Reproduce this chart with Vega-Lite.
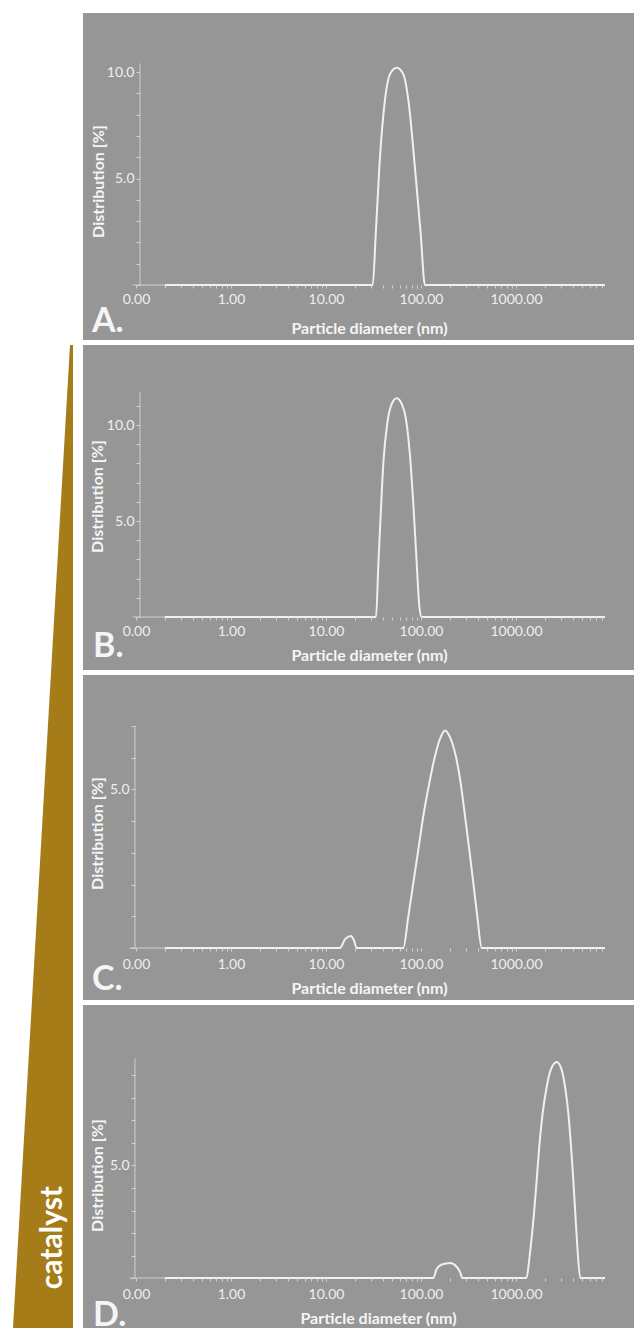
{
  "$schema": "https://vega.github.io/schema/vega-lite/v6.json",
  "background": "#ffffff",
  "padding": {"left": 0, "top": 13, "right": 0, "bottom": 0},
  "spacing": 0,
  "config": {
    "font": "Lato",
    "view": {"stroke": null},
    "axis": {
      "grid": false,
      "domain": false,
      "zindex": 1,
      "labelFont": "Lato",
      "labelFontSize": 14,
      "labelColor": "#eeeeee",
      "titleFont": "Lato",
      "titleFontSize": 16,
      "titleFontWeight": "bold",
      "titleColor": "#f5f5f5",
      "tickColor": "#d2d2d2",
      "tickWidth": 1,
      "labelOverlap": false,
      "labelFlush": false,
      "labelBound": false
    }
  },
  "datasets": {
    "psd": [
      {"panel": "A", "d": 0.2, "pct": 0},
      {"panel": "A", "d": 31.0, "pct": 0},
      {"panel": "A", "d": 33.4, "pct": 2.4},
      {"panel": "A", "d": 36.4, "pct": 5.5},
      {"panel": "A", "d": 41.8, "pct": 8.7},
      {"panel": "A", "d": 47.2, "pct": 9.9},
      {"panel": "A", "d": 55.5, "pct": 10.2},
      {"panel": "A", "d": 65.1, "pct": 9.9},
      {"panel": "A", "d": 73.5, "pct": 8.7},
      {"panel": "A", "d": 86.4, "pct": 5.5},
      {"panel": "A", "d": 99.3, "pct": 2.4},
      {"panel": "A", "d": 110, "pct": 0},
      {"panel": "A", "d": 8650, "pct": 0},
      {"panel": "B", "d": 0.2, "pct": 0},
      {"panel": "B", "d": 33.6, "pct": 0},
      {"panel": "B", "d": 35.6, "pct": 2.8},
      {"panel": "B", "d": 37.7, "pct": 5.4},
      {"panel": "B", "d": 40.1, "pct": 8.0},
      {"panel": "B", "d": 44.2, "pct": 10.1},
      {"panel": "B", "d": 49.2, "pct": 11.1},
      {"panel": "B", "d": 55.5, "pct": 11.4},
      {"panel": "B", "d": 62.6, "pct": 11.1},
      {"panel": "B", "d": 69.5, "pct": 10.3},
      {"panel": "B", "d": 76.6, "pct": 8.4},
      {"panel": "B", "d": 83.0, "pct": 5.9},
      {"panel": "B", "d": 90.1, "pct": 2.8},
      {"panel": "B", "d": 96.3, "pct": 0.5},
      {"panel": "B", "d": 101.6, "pct": 0},
      {"panel": "B", "d": 8650, "pct": 0},
      {"panel": "C", "d": 0.2, "pct": 0},
      {"panel": "C", "d": 14.0, "pct": 0},
      {"panel": "C", "d": 15.9, "pct": 0.28},
      {"panel": "C", "d": 18.2, "pct": 0.38},
      {"panel": "C", "d": 19.7, "pct": 0.24},
      {"panel": "C", "d": 21.0, "pct": 0},
      {"panel": "C", "d": 65.1, "pct": 0},
      {"panel": "C", "d": 73.5, "pct": 0.99},
      {"panel": "C", "d": 83.0, "pct": 2.05},
      {"panel": "C", "d": 93.7, "pct": 3.1},
      {"panel": "C", "d": 105.7, "pct": 4.16},
      {"panel": "C", "d": 122.3, "pct": 5.2},
      {"panel": "C", "d": 140.3, "pct": 6.05},
      {"panel": "C", "d": 161.1, "pct": 6.65},
      {"panel": "C", "d": 179, "pct": 6.86},
      {"panel": "C", "d": 201.8, "pct": 6.65},
      {"panel": "C", "d": 233.4, "pct": 6.03},
      {"panel": "C", "d": 261.6, "pct": 5.2},
      {"panel": "C", "d": 290.6, "pct": 4.16},
      {"panel": "C", "d": 322.3, "pct": 3.1},
      {"panel": "C", "d": 355.4, "pct": 2.05},
      {"panel": "C", "d": 391.6, "pct": 0.99},
      {"panel": "C", "d": 435.5, "pct": 0},
      {"panel": "C", "d": 8650, "pct": 0},
      {"panel": "D", "d": 0.2, "pct": 0},
      {"panel": "D", "d": 134.8, "pct": 0},
      {"panel": "D", "d": 146, "pct": 0.4},
      {"panel": "D", "d": 165, "pct": 0.6},
      {"panel": "D", "d": 202, "pct": 0.67},
      {"panel": "D", "d": 237, "pct": 0.5},
      {"panel": "D", "d": 258, "pct": 0.26},
      {"panel": "D", "d": 272, "pct": 0},
      {"panel": "D", "d": 1274, "pct": 0},
      {"panel": "D", "d": 1428, "pct": 1.4},
      {"panel": "D", "d": 1547, "pct": 2.88},
      {"panel": "D", "d": 1651, "pct": 4.36},
      {"panel": "D", "d": 1759, "pct": 5.85},
      {"panel": "D", "d": 1909, "pct": 7.33},
      {"panel": "D", "d": 2105, "pct": 8.5},
      {"panel": "D", "d": 2319, "pct": 9.25},
      {"panel": "D", "d": 2681, "pct": 9.6},
      {"panel": "D", "d": 3027, "pct": 9.25},
      {"panel": "D", "d": 3281, "pct": 8.5},
      {"panel": "D", "d": 3554, "pct": 7.33},
      {"panel": "D", "d": 3794, "pct": 5.85},
      {"panel": "D", "d": 4011, "pct": 4.36},
      {"panel": "D", "d": 4209, "pct": 2.88},
      {"panel": "D", "d": 4418, "pct": 1.4},
      {"panel": "D", "d": 4750, "pct": 0},
      {"panel": "D", "d": 8650, "pct": 0}
    ]
  },
  "hconcat": [
    {
      "width": 83,
      "height": 1315,
      "view": {"stroke": null, "fill": null},
      "layer": [
        {
          "data": {"values": [{"step": 0, "catalyst": 0.05}, {"step": 1, "catalyst": 1}]},
          "mark": {"type": "area", "orient": "horizontal", "color": "#a67c18"},
          "encoding": {
            "y": {"field": "step", "type": "quantitative", "scale": {"domain": [-0.3377, 1], "reverse": true, "nice": false, "zero": false}, "axis": null},
            "x": {"field": "catalyst", "type": "quantitative", "scale": {"domain": [-0.1667, 1.2167], "reverse": true, "nice": false, "zero": false}, "axis": null},
            "x2": {"datum": 0}
          }
        },
        {
          "data": {"values": [{}]},
          "mark": {"type": "text", "text": "catalyst", "angle": 270, "fontSize": 30, "fontWeight": "bold", "color": "#ffffff", "align": "center", "baseline": "middle", "font": "Lato"},
          "encoding": {
            "x": {"datum": 0.333, "type": "quantitative", "axis": null},
            "y": {"datum": 0.908, "type": "quantitative", "axis": null}
          }
        }
      ]
    },
    {
      "spacing": 5,
      "vconcat": [
        {
          "width": 551,
          "height": 327,
          "view": {"fill": "#969696", "stroke": null},
          "layer": [
            {
              "data": {"name": "psd"},
              "transform": [{"filter": "datum.panel === 'A'"}],
              "mark": {"type": "line", "interpolate": "monotone", "color": "#f0f0f0", "strokeWidth": 2},
              "encoding": {
                "x": {
                  "field": "d", "type": "quantitative",
                  "scale": {"type": "log", "domain": [0.02767, 17462], "nice": false},
                  "axis": {"title": "Particle diameter (nm)", "values": [0.1, 0.2, 0.3, 0.4, 0.5, 0.6, 0.7, 0.8, 0.9, 1, 2, 3, 4, 5, 6, 7, 8, 9, 10, 20, 30, 40, 50, 60, 70, 80, 90, 100, 200, 300, 400, 500, 600, 700, 800, 900, 1000, 2000, 3000, 4000, 5000, 6000, 7000, 8000], "labelExpr": "datum.value < 0.15 ? '0.00' : (indexof([1, 10, 100, 1000], datum.value) >= 0 ? format(datum.value, '.2f') : '')", "labelOverlap": false, "zindex": 1, "offset": -55, "tickSize": 3, "labelPadding": 4, "titleX": 286, "titleY": 43, "titleAlign": "center", "titleBaseline": "middle"}
                },
                "y": {
                  "field": "pct", "type": "quantitative",
                  "scale": {"domain": [-2.58, 12.77], "nice": false, "zero": false},
                  "axis": {"title": "Distribution [%]", "values": [0, 1, 2, 3, 4, 5, 6, 7, 8, 9, 10], "labelExpr": "datum.value == 5 || datum.value == 10 ? format(datum.value, '.1f') : ''", "labelOverlap": false, "zindex": 1, "offset": -57, "tickSize": 4, "labelPadding": 2, "titleX": -42, "titleY": 168, "titleAngle": 270, "titleAlign": "center", "titleBaseline": "middle"}
                }
              }
            },
            {
              "data": {"values": [{}]},
              "mark": {"type": "rule", "color": "#cfcfcf", "strokeWidth": 1},
              "encoding": {
                "x": {"datum": 0.1101, "type": "quantitative",
                  "axis": {"title": "Particle diameter (nm)", "values": [0.1, 0.2, 0.3, 0.4, 0.5, 0.6, 0.7, 0.8, 0.9, 1, 2, 3, 4, 5, 6, 7, 8, 9, 10, 20, 30, 40, 50, 60, 70, 80, 90, 100, 200, 300, 400, 500, 600, 700, 800, 900, 1000, 2000, 3000, 4000, 5000, 6000, 7000, 8000], "labelExpr": "datum.value < 0.15 ? '0.00' : (indexof([1, 10, 100, 1000], datum.value) >= 0 ? format(datum.value, '.2f') : '')", "labelOverlap": false, "zindex": 1, "offset": -55, "tickSize": 3, "labelPadding": 4, "titleX": 286, "titleY": 43, "titleAlign": "center", "titleBaseline": "middle"}},
                "y": {"datum": 0, "type": "quantitative",
                  "axis": {"title": "Distribution [%]", "values": [0, 1, 2, 3, 4, 5, 6, 7, 8, 9, 10], "labelExpr": "datum.value == 5 || datum.value == 10 ? format(datum.value, '.1f') : ''", "labelOverlap": false, "zindex": 1, "offset": -57, "tickSize": 4, "labelPadding": 2, "titleX": -42, "titleY": 168, "titleAngle": 270, "titleAlign": "center", "titleBaseline": "middle"}},
                "y2": {"datum": 10.4}
              }
            },
            {
              "data": {"values": [{}]},
              "mark": {"type": "rule", "color": "#cfcfcf", "strokeWidth": 1},
              "encoding": {
                "x": {"datum": 0.092, "type": "quantitative",
                  "axis": {"title": "Particle diameter (nm)", "values": [0.1, 0.2, 0.3, 0.4, 0.5, 0.6, 0.7, 0.8, 0.9, 1, 2, 3, 4, 5, 6, 7, 8, 9, 10, 20, 30, 40, 50, 60, 70, 80, 90, 100, 200, 300, 400, 500, 600, 700, 800, 900, 1000, 2000, 3000, 4000, 5000, 6000, 7000, 8000], "labelExpr": "datum.value < 0.15 ? '0.00' : (indexof([1, 10, 100, 1000], datum.value) >= 0 ? format(datum.value, '.2f') : '')", "labelOverlap": false, "zindex": 1, "offset": -55, "tickSize": 3, "labelPadding": 4, "titleX": 286, "titleY": 43, "titleAlign": "center", "titleBaseline": "middle"}},
                "x2": {"datum": 0.2},
                "y": {"datum": 0, "type": "quantitative",
                  "axis": {"title": "Distribution [%]", "values": [0, 1, 2, 3, 4, 5, 6, 7, 8, 9, 10], "labelExpr": "datum.value == 5 || datum.value == 10 ? format(datum.value, '.1f') : ''", "labelOverlap": false, "zindex": 1, "offset": -57, "tickSize": 4, "labelPadding": 2, "titleX": -42, "titleY": 168, "titleAngle": 270, "titleAlign": "center", "titleBaseline": "middle"}}
              }
            },
            {
              "data": {"values": [{}]},
              "mark": {"type": "text", "text": "A.", "fontSize": 34, "fontWeight": "bold", "color": "#f5f5f5", "align": "left", "baseline": "alphabetic", "font": "Lato"},
              "encoding": {
                "x": {"datum": 0.0344, "type": "quantitative",
                  "axis": {"title": "Particle diameter (nm)", "values": [0.1, 0.2, 0.3, 0.4, 0.5, 0.6, 0.7, 0.8, 0.9, 1, 2, 3, 4, 5, 6, 7, 8, 9, 10, 20, 30, 40, 50, 60, 70, 80, 90, 100, 200, 300, 400, 500, 600, 700, 800, 900, 1000, 2000, 3000, 4000, 5000, 6000, 7000, 8000], "labelExpr": "datum.value < 0.15 ? '0.00' : (indexof([1, 10, 100, 1000], datum.value) >= 0 ? format(datum.value, '.2f') : '')", "labelOverlap": false, "zindex": 1, "offset": -55, "tickSize": 3, "labelPadding": 4, "titleX": 286, "titleY": 43, "titleAlign": "center", "titleBaseline": "middle"}},
                "y": {"datum": -2.21, "type": "quantitative",
                  "axis": {"title": "Distribution [%]", "values": [0, 1, 2, 3, 4, 5, 6, 7, 8, 9, 10], "labelExpr": "datum.value == 5 || datum.value == 10 ? format(datum.value, '.1f') : ''", "labelOverlap": false, "zindex": 1, "offset": -57, "tickSize": 4, "labelPadding": 2, "titleX": -42, "titleY": 168, "titleAngle": 270, "titleAlign": "center", "titleBaseline": "middle"}}
              }
            }
          ]
        },
        {
          "width": 551,
          "height": 325,
          "view": {"fill": "#969696", "stroke": null},
          "layer": [
            {
              "data": {"name": "psd"},
              "transform": [{"filter": "datum.panel === 'B'"}],
              "mark": {"type": "line", "interpolate": "monotone", "color": "#f0f0f0", "strokeWidth": 2},
              "encoding": {
                "x": {
                  "field": "d", "type": "quantitative",
                  "scale": {"type": "log", "domain": [0.02767, 17462], "nice": false},
                  "axis": {"title": "Particle diameter (nm)", "values": [0.1, 0.2, 0.3, 0.4, 0.5, 0.6, 0.7, 0.8, 0.9, 1, 2, 3, 4, 5, 6, 7, 8, 9, 10, 20, 30, 40, 50, 60, 70, 80, 90, 100, 200, 300, 400, 500, 600, 700, 800, 900, 1000, 2000, 3000, 4000, 5000, 6000, 7000, 8000], "labelExpr": "datum.value < 0.15 ? '0.00' : (indexof([1, 10, 100, 1000], datum.value) >= 0 ? format(datum.value, '.2f') : '')", "labelOverlap": false, "zindex": 1, "offset": -53, "tickSize": 3, "labelPadding": 4, "titleX": 286, "titleY": 38, "titleAlign": "center", "titleBaseline": "middle"}
                },
                "y": {
                  "field": "pct", "type": "quantitative",
                  "scale": {"domain": [-2.76, 14.17], "nice": false, "zero": false},
                  "axis": {"title": "Distribution [%]", "values": [0, 1, 2, 3, 4, 5, 6, 7, 8, 9, 10, 11], "labelExpr": "datum.value == 5 || datum.value == 10 ? format(datum.value, '.1f') : ''", "labelOverlap": false, "zindex": 1, "offset": -57, "tickSize": 4, "labelPadding": 2, "titleX": -43, "titleY": 151, "titleAngle": 270, "titleAlign": "center", "titleBaseline": "middle"}
                }
              }
            },
            {
              "data": {"values": [{}]},
              "mark": {"type": "rule", "color": "#cfcfcf", "strokeWidth": 1},
              "encoding": {
                "x": {"datum": 0.1101, "type": "quantitative",
                  "axis": {"title": "Particle diameter (nm)", "values": [0.1, 0.2, 0.3, 0.4, 0.5, 0.6, 0.7, 0.8, 0.9, 1, 2, 3, 4, 5, 6, 7, 8, 9, 10, 20, 30, 40, 50, 60, 70, 80, 90, 100, 200, 300, 400, 500, 600, 700, 800, 900, 1000, 2000, 3000, 4000, 5000, 6000, 7000, 8000], "labelExpr": "datum.value < 0.15 ? '0.00' : (indexof([1, 10, 100, 1000], datum.value) >= 0 ? format(datum.value, '.2f') : '')", "labelOverlap": false, "zindex": 1, "offset": -53, "tickSize": 3, "labelPadding": 4, "titleX": 286, "titleY": 38, "titleAlign": "center", "titleBaseline": "middle"}},
                "y": {"datum": 0, "type": "quantitative",
                  "axis": {"title": "Distribution [%]", "values": [0, 1, 2, 3, 4, 5, 6, 7, 8, 9, 10, 11], "labelExpr": "datum.value == 5 || datum.value == 10 ? format(datum.value, '.1f') : ''", "labelOverlap": false, "zindex": 1, "offset": -57, "tickSize": 4, "labelPadding": 2, "titleX": -43, "titleY": 151, "titleAngle": 270, "titleAlign": "center", "titleBaseline": "middle"}},
                "y2": {"datum": 11.7}
              }
            },
            {
              "data": {"values": [{}]},
              "mark": {"type": "rule", "color": "#cfcfcf", "strokeWidth": 1},
              "encoding": {
                "x": {"datum": 0.092, "type": "quantitative",
                  "axis": {"title": "Particle diameter (nm)", "values": [0.1, 0.2, 0.3, 0.4, 0.5, 0.6, 0.7, 0.8, 0.9, 1, 2, 3, 4, 5, 6, 7, 8, 9, 10, 20, 30, 40, 50, 60, 70, 80, 90, 100, 200, 300, 400, 500, 600, 700, 800, 900, 1000, 2000, 3000, 4000, 5000, 6000, 7000, 8000], "labelExpr": "datum.value < 0.15 ? '0.00' : (indexof([1, 10, 100, 1000], datum.value) >= 0 ? format(datum.value, '.2f') : '')", "labelOverlap": false, "zindex": 1, "offset": -53, "tickSize": 3, "labelPadding": 4, "titleX": 286, "titleY": 38, "titleAlign": "center", "titleBaseline": "middle"}},
                "x2": {"datum": 0.2},
                "y": {"datum": 0, "type": "quantitative",
                  "axis": {"title": "Distribution [%]", "values": [0, 1, 2, 3, 4, 5, 6, 7, 8, 9, 10, 11], "labelExpr": "datum.value == 5 || datum.value == 10 ? format(datum.value, '.1f') : ''", "labelOverlap": false, "zindex": 1, "offset": -57, "tickSize": 4, "labelPadding": 2, "titleX": -43, "titleY": 151, "titleAngle": 270, "titleAlign": "center", "titleBaseline": "middle"}}
              }
            },
            {
              "data": {"values": [{}]},
              "mark": {"type": "text", "text": "B.", "fontSize": 34, "fontWeight": "bold", "color": "#f5f5f5", "align": "left", "baseline": "alphabetic", "font": "Lato"},
              "encoding": {
                "x": {"datum": 0.0353, "type": "quantitative",
                  "axis": {"title": "Particle diameter (nm)", "values": [0.1, 0.2, 0.3, 0.4, 0.5, 0.6, 0.7, 0.8, 0.9, 1, 2, 3, 4, 5, 6, 7, 8, 9, 10, 20, 30, 40, 50, 60, 70, 80, 90, 100, 200, 300, 400, 500, 600, 700, 800, 900, 1000, 2000, 3000, 4000, 5000, 6000, 7000, 8000], "labelExpr": "datum.value < 0.15 ? '0.00' : (indexof([1, 10, 100, 1000], datum.value) >= 0 ? format(datum.value, '.2f') : '')", "labelOverlap": false, "zindex": 1, "offset": -53, "tickSize": 3, "labelPadding": 4, "titleX": 286, "titleY": 38, "titleAlign": "center", "titleBaseline": "middle"}},
                "y": {"datum": -2.08, "type": "quantitative",
                  "axis": {"title": "Distribution [%]", "values": [0, 1, 2, 3, 4, 5, 6, 7, 8, 9, 10, 11], "labelExpr": "datum.value == 5 || datum.value == 10 ? format(datum.value, '.1f') : ''", "labelOverlap": false, "zindex": 1, "offset": -57, "tickSize": 4, "labelPadding": 2, "titleX": -43, "titleY": 151, "titleAngle": 270, "titleAlign": "center", "titleBaseline": "middle"}}
              }
            }
          ]
        },
        {
          "width": 551,
          "height": 325,
          "view": {"fill": "#969696", "stroke": null},
          "layer": [
            {
              "data": {"name": "psd"},
              "transform": [{"filter": "datum.panel === 'C'"}],
              "mark": {"type": "line", "interpolate": "monotone", "color": "#f0f0f0", "strokeWidth": 2},
              "encoding": {
                "x": {
                  "field": "d", "type": "quantitative",
                  "scale": {"type": "log", "domain": [0.02767, 17462], "nice": false},
                  "axis": {"title": "Particle diameter (nm)", "values": [0.1, 0.2, 0.3, 0.4, 0.5, 0.6, 0.7, 0.8, 0.9, 1, 2, 3, 4, 5, 6, 7, 8, 9, 10, 20, 30, 40, 50, 60, 70, 80, 90, 100, 200, 300, 400, 500, 600, 700, 800, 900, 1000, 2000, 3000, 4000, 5000, 6000, 7000, 8000], "labelExpr": "datum.value < 0.15 ? '0.00' : (indexof([1, 10, 100, 1000], datum.value) >= 0 ? format(datum.value, '.2f') : '')", "labelOverlap": false, "zindex": 1, "offset": -52, "tickSize": 3, "labelPadding": 6, "titleX": 286, "titleY": 40, "titleAlign": "center", "titleBaseline": "middle"}
                },
                "y": {
                  "field": "pct", "type": "quantitative",
                  "scale": {"domain": [-1.64, 8.61], "nice": false, "zero": false},
                  "axis": {"title": "Distribution [%]", "values": [0, 1, 2, 3, 4, 5, 6, 7], "labelExpr": "datum.value == 5 || datum.value == 10 ? format(datum.value, '.1f') : ''", "labelOverlap": false, "zindex": 1, "offset": -52, "tickSize": 4, "labelPadding": 2, "titleX": -38, "titleY": 158, "titleAngle": 270, "titleAlign": "center", "titleBaseline": "middle"}
                }
              }
            },
            {
              "data": {"values": [{}]},
              "mark": {"type": "rule", "color": "#cfcfcf", "strokeWidth": 1},
              "encoding": {
                "x": {"datum": 0.0975, "type": "quantitative",
                  "axis": {"title": "Particle diameter (nm)", "values": [0.1, 0.2, 0.3, 0.4, 0.5, 0.6, 0.7, 0.8, 0.9, 1, 2, 3, 4, 5, 6, 7, 8, 9, 10, 20, 30, 40, 50, 60, 70, 80, 90, 100, 200, 300, 400, 500, 600, 700, 800, 900, 1000, 2000, 3000, 4000, 5000, 6000, 7000, 8000], "labelExpr": "datum.value < 0.15 ? '0.00' : (indexof([1, 10, 100, 1000], datum.value) >= 0 ? format(datum.value, '.2f') : '')", "labelOverlap": false, "zindex": 1, "offset": -52, "tickSize": 3, "labelPadding": 6, "titleX": 286, "titleY": 40, "titleAlign": "center", "titleBaseline": "middle"}},
                "y": {"datum": 0, "type": "quantitative",
                  "axis": {"title": "Distribution [%]", "values": [0, 1, 2, 3, 4, 5, 6, 7], "labelExpr": "datum.value == 5 || datum.value == 10 ? format(datum.value, '.1f') : ''", "labelOverlap": false, "zindex": 1, "offset": -52, "tickSize": 4, "labelPadding": 2, "titleX": -38, "titleY": 158, "titleAngle": 270, "titleAlign": "center", "titleBaseline": "middle"}},
                "y2": {"datum": 7.0}
              }
            },
            {
              "data": {"values": [{}]},
              "mark": {"type": "rule", "color": "#cfcfcf", "strokeWidth": 1},
              "encoding": {
                "x": {"datum": 0.085, "type": "quantitative",
                  "axis": {"title": "Particle diameter (nm)", "values": [0.1, 0.2, 0.3, 0.4, 0.5, 0.6, 0.7, 0.8, 0.9, 1, 2, 3, 4, 5, 6, 7, 8, 9, 10, 20, 30, 40, 50, 60, 70, 80, 90, 100, 200, 300, 400, 500, 600, 700, 800, 900, 1000, 2000, 3000, 4000, 5000, 6000, 7000, 8000], "labelExpr": "datum.value < 0.15 ? '0.00' : (indexof([1, 10, 100, 1000], datum.value) >= 0 ? format(datum.value, '.2f') : '')", "labelOverlap": false, "zindex": 1, "offset": -52, "tickSize": 3, "labelPadding": 6, "titleX": 286, "titleY": 40, "titleAlign": "center", "titleBaseline": "middle"}},
                "x2": {"datum": 0.2},
                "y": {"datum": 0, "type": "quantitative",
                  "axis": {"title": "Distribution [%]", "values": [0, 1, 2, 3, 4, 5, 6, 7], "labelExpr": "datum.value == 5 || datum.value == 10 ? format(datum.value, '.1f') : ''", "labelOverlap": false, "zindex": 1, "offset": -52, "tickSize": 4, "labelPadding": 2, "titleX": -38, "titleY": 158, "titleAngle": 270, "titleAlign": "center", "titleBaseline": "middle"}}
              }
            },
            {
              "data": {"values": [{}]},
              "mark": {"type": "text", "text": "C.", "fontSize": 34, "fontWeight": "bold", "color": "#f5f5f5", "align": "left", "baseline": "alphabetic", "font": "Lato"},
              "encoding": {
                "x": {"datum": 0.0344, "type": "quantitative",
                  "axis": {"title": "Particle diameter (nm)", "values": [0.1, 0.2, 0.3, 0.4, 0.5, 0.6, 0.7, 0.8, 0.9, 1, 2, 3, 4, 5, 6, 7, 8, 9, 10, 20, 30, 40, 50, 60, 70, 80, 90, 100, 200, 300, 400, 500, 600, 700, 800, 900, 1000, 2000, 3000, 4000, 5000, 6000, 7000, 8000], "labelExpr": "datum.value < 0.15 ? '0.00' : (indexof([1, 10, 100, 1000], datum.value) >= 0 ? format(datum.value, '.2f') : '')", "labelOverlap": false, "zindex": 1, "offset": -52, "tickSize": 3, "labelPadding": 6, "titleX": 286, "titleY": 40, "titleAlign": "center", "titleBaseline": "middle"}},
                "y": {"datum": -1.325, "type": "quantitative",
                  "axis": {"title": "Distribution [%]", "values": [0, 1, 2, 3, 4, 5, 6, 7], "labelExpr": "datum.value == 5 || datum.value == 10 ? format(datum.value, '.1f') : ''", "labelOverlap": false, "zindex": 1, "offset": -52, "tickSize": 4, "labelPadding": 2, "titleX": -38, "titleY": 158, "titleAngle": 270, "titleAlign": "center", "titleBaseline": "middle"}}
              }
            }
          ]
        },
        {
          "width": 551,
          "height": 323,
          "view": {"fill": "#969696", "stroke": null},
          "layer": [
            {
              "data": {"name": "psd"},
              "transform": [{"filter": "datum.panel === 'D'"}],
              "mark": {"type": "line", "interpolate": "monotone", "color": "#f0f0f0", "strokeWidth": 2},
              "encoding": {
                "x": {
                  "field": "d", "type": "quantitative",
                  "scale": {"type": "log", "domain": [0.02767, 17462], "nice": false},
                  "axis": {"title": "Particle diameter (nm)", "values": [0.1, 0.2, 0.3, 0.4, 0.5, 0.6, 0.7, 0.8, 0.9, 1, 2, 3, 4, 5, 6, 7, 8, 9, 10, 20, 30, 40, 50, 60, 70, 80, 90, 100, 200, 300, 400, 500, 600, 700, 800, 900, 1000, 2000, 3000, 4000, 5000, 6000, 7000, 8000], "labelExpr": "datum.value < 0.15 ? '0.00' : (indexof([1, 10, 100, 1000], datum.value) >= 0 ? format(datum.value, '.2f') : '')", "labelOverlap": false, "zindex": 1, "offset": -50, "tickSize": 3, "labelPadding": 6, "titleX": 295, "titleY": 40, "titleAlign": "center", "titleBaseline": "middle"}
                },
                "y": {
                  "field": "pct", "type": "quantitative",
                  "scale": {"domain": [-2.22, 12.13], "nice": false, "zero": false},
                  "axis": {"title": "Distribution [%]", "values": [0, 1, 2, 3, 4, 5, 6, 7, 8, 9], "labelExpr": "datum.value == 5 || datum.value == 10 ? format(datum.value, '.1f') : ''", "labelOverlap": false, "zindex": 1, "offset": -52, "tickSize": 4, "labelPadding": 2, "titleX": -38, "titleY": 170, "titleAngle": 270, "titleAlign": "center", "titleBaseline": "middle"}
                }
              }
            },
            {
              "data": {"values": [{}]},
              "mark": {"type": "rule", "color": "#cfcfcf", "strokeWidth": 1},
              "encoding": {
                "x": {"datum": 0.0975, "type": "quantitative",
                  "axis": {"title": "Particle diameter (nm)", "values": [0.1, 0.2, 0.3, 0.4, 0.5, 0.6, 0.7, 0.8, 0.9, 1, 2, 3, 4, 5, 6, 7, 8, 9, 10, 20, 30, 40, 50, 60, 70, 80, 90, 100, 200, 300, 400, 500, 600, 700, 800, 900, 1000, 2000, 3000, 4000, 5000, 6000, 7000, 8000], "labelExpr": "datum.value < 0.15 ? '0.00' : (indexof([1, 10, 100, 1000], datum.value) >= 0 ? format(datum.value, '.2f') : '')", "labelOverlap": false, "zindex": 1, "offset": -50, "tickSize": 3, "labelPadding": 6, "titleX": 295, "titleY": 40, "titleAlign": "center", "titleBaseline": "middle"}},
                "y": {"datum": 0, "type": "quantitative",
                  "axis": {"title": "Distribution [%]", "values": [0, 1, 2, 3, 4, 5, 6, 7, 8, 9], "labelExpr": "datum.value == 5 || datum.value == 10 ? format(datum.value, '.1f') : ''", "labelOverlap": false, "zindex": 1, "offset": -52, "tickSize": 4, "labelPadding": 2, "titleX": -38, "titleY": 170, "titleAngle": 270, "titleAlign": "center", "titleBaseline": "middle"}},
                "y2": {"datum": 9.75}
              }
            },
            {
              "data": {"values": [{}]},
              "mark": {"type": "rule", "color": "#cfcfcf", "strokeWidth": 1},
              "encoding": {
                "x": {"datum": 0.085, "type": "quantitative",
                  "axis": {"title": "Particle diameter (nm)", "values": [0.1, 0.2, 0.3, 0.4, 0.5, 0.6, 0.7, 0.8, 0.9, 1, 2, 3, 4, 5, 6, 7, 8, 9, 10, 20, 30, 40, 50, 60, 70, 80, 90, 100, 200, 300, 400, 500, 600, 700, 800, 900, 1000, 2000, 3000, 4000, 5000, 6000, 7000, 8000], "labelExpr": "datum.value < 0.15 ? '0.00' : (indexof([1, 10, 100, 1000], datum.value) >= 0 ? format(datum.value, '.2f') : '')", "labelOverlap": false, "zindex": 1, "offset": -50, "tickSize": 3, "labelPadding": 6, "titleX": 295, "titleY": 40, "titleAlign": "center", "titleBaseline": "middle"}},
                "x2": {"datum": 0.2},
                "y": {"datum": 0, "type": "quantitative",
                  "axis": {"title": "Distribution [%]", "values": [0, 1, 2, 3, 4, 5, 6, 7, 8, 9], "labelExpr": "datum.value == 5 || datum.value == 10 ? format(datum.value, '.1f') : ''", "labelOverlap": false, "zindex": 1, "offset": -52, "tickSize": 4, "labelPadding": 2, "titleX": -38, "titleY": 170, "titleAngle": 270, "titleAlign": "center", "titleBaseline": "middle"}}
              }
            },
            {
              "data": {"values": [{}]},
              "mark": {"type": "text", "text": "D.", "fontSize": 34, "fontWeight": "bold", "color": "#f5f5f5", "align": "left", "baseline": "alphabetic", "font": "Lato"},
              "encoding": {
                "x": {"datum": 0.0353, "type": "quantitative",
                  "axis": {"title": "Particle diameter (nm)", "values": [0.1, 0.2, 0.3, 0.4, 0.5, 0.6, 0.7, 0.8, 0.9, 1, 2, 3, 4, 5, 6, 7, 8, 9, 10, 20, 30, 40, 50, 60, 70, 80, 90, 100, 200, 300, 400, 500, 600, 700, 800, 900, 1000, 2000, 3000, 4000, 5000, 6000, 7000, 8000], "labelExpr": "datum.value < 0.15 ? '0.00' : (indexof([1, 10, 100, 1000], datum.value) >= 0 ? format(datum.value, '.2f') : '')", "labelOverlap": false, "zindex": 1, "offset": -50, "tickSize": 3, "labelPadding": 6, "titleX": 295, "titleY": 40, "titleAlign": "center", "titleBaseline": "middle"}},
                "y": {"datum": -2.12, "type": "quantitative",
                  "axis": {"title": "Distribution [%]", "values": [0, 1, 2, 3, 4, 5, 6, 7, 8, 9], "labelExpr": "datum.value == 5 || datum.value == 10 ? format(datum.value, '.1f') : ''", "labelOverlap": false, "zindex": 1, "offset": -52, "tickSize": 4, "labelPadding": 2, "titleX": -38, "titleY": 170, "titleAngle": 270, "titleAlign": "center", "titleBaseline": "middle"}}
              }
            }
          ]
        }
      ]
    }
  ]
}
